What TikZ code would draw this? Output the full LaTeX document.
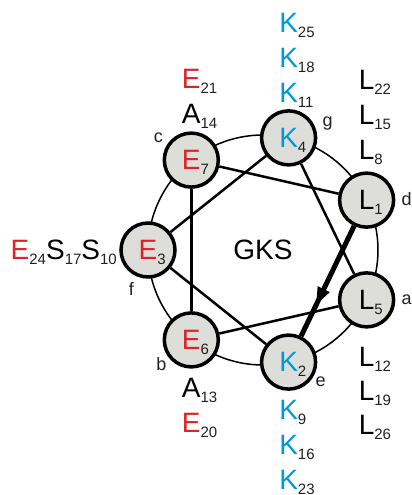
\documentclass[tikz,border=0pt]{standalone}
\usepackage{fontspec}
\setmainfont{Liberation Sans}
\usetikzlibrary{arrows.meta,decorations.markings,positioning}
\definecolor{resred}{RGB}{226,32,38}
\definecolor{resblue}{RGB}{0,152,218}
\definecolor{resgray}{RGB}{221,222,218}
\definecolor{subgray}{RGB}{35,31,32}
\newcommand{\rsub}[1]{\raisebox{-5pt}{\color{subgray}\fontsize{15}{15}\selectfont #1}}
\newcommand{\res}[2]{#1\rlap{\smash{\rsub{#2}}}}

\begin{document}
\begin{tikzpicture}[
  big/.style={font=\fontsize{28}{30}\selectfont,inner sep=0pt},
  residue/.style={big,circle,draw,line width=3.5pt,fill=resgray,minimum size=54pt},
  tag/.style={font=\fontsize{18}{20}\selectfont,text=subgray,inner sep=0pt},
  link/.style={line width=2.5pt},
  helix/.style={line width=5pt,decoration={markings,
    mark=at position 0.72 with {\arrow{Triangle[length=18pt,width=12pt]}}},
    postaction={decorate}}]
\useasboundingbox (-263pt,-245pt) rectangle (149pt,250pt);
\node [big,circle,draw,line width=1.5pt,minimum size=230pt] (wheel) at (0,0) {GKS};
% residues 1..7 on the wheel
\node [residue] (L1) at (25.71:115pt) {\res{L}{1}};
\node [residue,text=resblue] (K2) at (-77.14:115pt) {\res{K}{2}};
\node [residue,text=resred] (E3) at (180:115pt) {\res{E}{3}};
\node [residue,text=resblue] (K4) at (77.14:115pt) {\res{K}{4}};
\node [residue] (L5) at (-25.71:115pt) {\res{L}{5}};
\node [residue,text=resred] (E6) at (-128.57:115pt) {\res{E}{6}};
\node [residue,text=resred] (E7) at (128.57:115pt) {\res{E}{7}};
% heptad positions
\node [tag] (a) at ([shift={(40pt,0pt)}]L5.center) {a};
\node [tag] (b) at ([shift={(-30pt,-24pt)}]E6.center) {b};
\node [tag] (c) at ([shift={(-33pt,22pt)}]E7.center) {c};
\node [tag] (d) at ([shift={(40pt,1pt)}]L1.center) {d};
\node [tag] (e) at ([shift={(32pt,-20pt)}]K2.center) {e};
\node [tag] (f) at ([shift={(-16.5pt,-39pt)}]E3.center) {f};
\node [tag] (g) at ([shift={(39pt,14pt)}]K4.center) {g};
% following turns
\node [big,text=resblue] (K11) at ([yshift=45pt]K4.center) {\res{K}{11}};
\node [big,text=resblue] (K18) at ([yshift=80pt]K4.center) {\res{K}{18}};
\node [big,text=resblue] (K25) at ([yshift=115pt]K4.center) {\res{K}{25}};
\node [big] (A14) at ([yshift=46pt]E7.center) {\res{A}{14}};
\node [big,text=resred] (E21) at ([yshift=81pt]E7.center) {\res{E}{21}};
\node [big] (L8) at ([yshift=50pt]L1.center) {\res{L}{8}};
\node [big] (L15) at ([yshift=85pt]L1.center) {\res{L}{15}};
\node [big] (L22) at ([yshift=120pt]L1.center) {\res{L}{22}};
\node [big] (L12) at ([yshift=-57pt]L5.center) {\res{L}{12}};
\node [big] (L19) at ([yshift=-91pt]L5.center) {\res{L}{19}};
\node [big] (L26) at ([yshift=-125pt]L5.center) {\res{L}{26}};
\node [big,text=resblue] (K9) at ([yshift=-48pt]K2.center) {\res{K}{9}};
\node [big,text=resblue] (K16) at ([yshift=-83pt]K2.center) {\res{K}{16}};
\node [big,text=resblue] (K23) at ([yshift=-118pt]K2.center) {\res{K}{23}};
\node [big] (A13) at ([yshift=-48pt]E6.center) {\res{A}{13}};
\node [big,text=resred] (E20) at ([yshift=-83pt]E6.center) {\res{E}{20}};
\node [big,anchor=base east] (ESS) at ([shift={(-31pt,-10pt)}]E3.center)
  {\textcolor{resred}{E}\rsub{24}S\rsub{17}S\rsub{10}};
\begin{scope}
\draw [link] (K2) -- (E3);
\draw [link] (E3) -- (K4);
\draw [link] (K4) -- (L5);
\draw [link] (L5) -- (E6);
\draw [link] (E6) -- (E7);
\draw [link] (E7) -- (L1);
\draw [helix] (L1) -- (K2);
\end{scope}
\end{tikzpicture}
\end{document}
